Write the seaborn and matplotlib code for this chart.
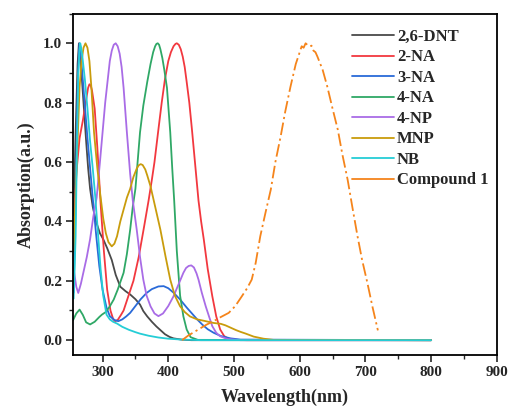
import numpy as np
import pandas as pd
import matplotlib
matplotlib.use("Agg")
import matplotlib.pyplot as plt
import seaborn as sns

# ---------------- data ----------------
dnt_wl = [256, 259, 262, 264, 267, 271, 275, 278, 281, 285, 290, 296, 301, 307, 314, 320, 327,
          335, 342, 350, 357, 362, 368, 375, 382, 388, 395, 402, 408, 420, 435, 460, 800]
dnt_y = [0.42, 0.70, 0.93, 1.00, 0.93, 0.80, 0.67, 0.58, 0.51, 0.45, 0.40, 0.36, 0.34, 0.31, 0.27,
         0.22, 0.18, 0.165, 0.154, 0.138, 0.12, 0.098, 0.08, 0.062, 0.046, 0.034, 0.02, 0.011,
         0.006, 0.002, 0.0, 0.0, 0.0]

na2_wl = [256, 260, 265, 270, 275, 278, 280, 282, 284, 288, 292, 297, 302, 307, 312, 316, 319,
          323, 328, 332, 338, 347, 355, 363, 370, 375, 379, 385, 390, 395, 400, 404, 408, 411,
          413, 416, 419, 422, 425, 428, 432, 436, 441, 446, 450, 454, 460, 467, 473, 479, 485,
          492, 500, 520, 800]
na2_y = [0.36, 0.56, 0.68, 0.74, 0.81, 0.85, 0.862, 0.858, 0.84, 0.78, 0.65, 0.46, 0.30, 0.17,
         0.10, 0.072, 0.064, 0.068, 0.085, 0.10, 0.14, 0.20, 0.28, 0.38, 0.47, 0.54, 0.60, 0.71,
         0.80, 0.88, 0.94, 0.97, 0.99, 0.998, 1.00, 0.995, 0.98, 0.955, 0.92, 0.87, 0.80, 0.71,
         0.59, 0.47, 0.40, 0.34, 0.24, 0.148, 0.08, 0.036, 0.014, 0.004, 0.001, 0.0, 0.0]

na3_wl = [256, 259, 262, 264, 265, 266, 268, 272, 277, 281, 285, 290, 295, 300, 306, 311, 318,
          324, 330, 336, 342, 350, 358, 367, 375, 385, 393, 400, 408, 418, 428, 436, 444, 452,
          460, 469, 480, 495, 510, 800]
na3_y = [0.16, 0.45, 0.85, 0.97, 1.00, 0.99, 0.93, 0.82, 0.68, 0.58, 0.48, 0.36, 0.25, 0.17,
         0.11, 0.081, 0.068, 0.064, 0.07, 0.08, 0.092, 0.115, 0.138, 0.159, 0.172, 0.181, 0.182,
         0.175, 0.16, 0.137, 0.11, 0.09, 0.07, 0.052, 0.037, 0.025, 0.014, 0.006, 0.002, 0.0]

na4_wl = [255, 260, 265, 270, 275, 281, 288, 295, 299, 305, 311, 317, 323, 332, 337, 342, 346,
          350, 357, 362, 368, 373, 377, 380, 382, 384, 386, 388, 391, 394, 398, 403, 406, 409,
          413, 418, 423, 428, 434, 445, 800]
na4_y = [0.067, 0.09, 0.103, 0.085, 0.06, 0.053, 0.062, 0.078, 0.086, 0.095, 0.114, 0.137, 0.17,
         0.227, 0.29, 0.372, 0.45, 0.51, 0.70, 0.79, 0.87, 0.93, 0.97, 0.99, 0.998, 1.00, 0.995,
         0.98, 0.95, 0.91, 0.85, 0.70, 0.58, 0.47, 0.30, 0.15, 0.08, 0.036, 0.01, 0.001, 0.0]

np4_wl = [256, 260, 263, 267, 272, 276, 281, 286, 291, 296, 300, 304, 308, 311, 314, 317, 320,
          323, 326, 329, 332, 337, 342, 346, 352, 357, 362, 367, 373, 379, 385, 392, 400, 408,
          416, 423, 427, 431, 435, 439, 443, 446, 451, 457, 462, 467, 473, 479, 490, 510, 800]
np4_y = [0.24, 0.18, 0.159, 0.19, 0.24, 0.28, 0.34, 0.417, 0.48, 0.60, 0.70, 0.80, 0.88, 0.94,
         0.975, 0.995, 1.00, 0.99, 0.965, 0.92, 0.85, 0.70, 0.56, 0.47, 0.372, 0.28, 0.204, 0.15,
         0.114, 0.09, 0.081, 0.09, 0.115, 0.148, 0.19, 0.227, 0.243, 0.25, 0.252, 0.245, 0.225,
         0.204, 0.16, 0.114, 0.08, 0.047, 0.025, 0.013, 0.004, 0.0, 0.0]

mnp_wl = [256, 260, 265, 268, 271, 274, 277, 280, 283, 287, 292, 296, 301, 305, 309, 314, 318,
          322, 327, 332, 337, 342, 347, 352, 355, 358, 361, 365, 368, 373, 380, 388, 396, 403,
          410, 418, 425, 433, 444, 455, 469, 480, 487, 495, 503, 510, 518, 530, 545, 560, 800]
mnp_y = [0.30, 0.55, 0.85, 0.94, 0.985, 1.00, 0.985, 0.94, 0.85, 0.70, 0.58, 0.50, 0.41, 0.36,
         0.33, 0.316, 0.325, 0.35, 0.40, 0.44, 0.48, 0.51, 0.55, 0.578, 0.589, 0.593, 0.59,
         0.575, 0.555, 0.518, 0.45, 0.372, 0.28, 0.204, 0.15, 0.114, 0.095, 0.08, 0.07, 0.065,
         0.058, 0.055, 0.05, 0.042, 0.034, 0.028, 0.022, 0.012, 0.005, 0.001, 0.0]

nb_wl = [256, 259, 261, 263, 265, 266, 267, 269, 273, 277, 281, 285, 289, 293, 297, 301, 306,
         311, 316, 322, 330, 340, 350, 357, 370, 385, 400, 420, 450, 800]
nb_y = [0.14, 0.35, 0.65, 0.90, 0.98, 1.00, 0.99, 0.96, 0.88, 0.78, 0.67, 0.58, 0.48, 0.36,
        0.24, 0.15, 0.086, 0.07, 0.062, 0.056, 0.045, 0.035, 0.027, 0.022, 0.015, 0.009, 0.005,
        0.002, 0.0, 0.0]

c1_wl = [421, 430, 445, 458, 469, 480, 492, 502, 512, 520, 527, 533, 540, 548, 556, 563, 571,
         578, 586, 594, 600, 603, 606, 609, 612, 615, 618, 621, 624, 627, 635, 642, 650, 658,
         665, 673, 680, 688, 695, 703, 711, 719]
c1_y = [0.0, 0.015, 0.035, 0.052, 0.064, 0.078, 0.092, 0.115, 0.148, 0.175, 0.204, 0.26, 0.35,
        0.43, 0.507, 0.60, 0.686, 0.77, 0.854, 0.93, 0.97, 0.99, 0.985, 1.0, 0.994, 0.99, 0.992,
        0.975, 0.97, 0.955, 0.91, 0.854, 0.78, 0.709, 0.625, 0.54, 0.45, 0.35, 0.27, 0.193,
        0.11, 0.033]

series = [
    ("2,6-DNT", dnt_wl, dnt_y, "#4a4a4a"),
    ("2-NA", na2_wl, na2_y, "#f2383f"),
    ("3-NA", na3_wl, na3_y, "#2a6ad8"),
    ("4-NA", na4_wl, na4_y, "#2fa866"),
    ("4-NP", np4_wl, np4_y, "#a96ce6"),
    ("MNP", mnp_wl, mnp_y, "#c99c0c"),
    ("NB", nb_wl, nb_y, "#25cdd6"),
    ("Compound 1", c1_wl, c1_y, "#f5841b"),
]

x_ticks = [300, 400, 500, 600, 700, 800, 900]
y_ticks = [0.0, 0.2, 0.4, 0.6, 0.8, 1.0]

# ---------------- plotting ----------------
sns.set_style("ticks")
plt.rcParams["font.family"] = ["Liberation Serif", "DejaVu Serif"]
plt.rcParams["font.weight"] = "bold"

fig = plt.figure(figsize=(5.08, 4.12), dpi=100)
ax = fig.add_axes([0.1437, 0.1383, 0.8343, 0.8287])

for name, wl, y, col in series:
    df = pd.DataFrame({"wl": wl, "abs": y})
    ls = (0, (7, 2, 1.2, 2)) if name == "Compound 1" else "-"
    sns.lineplot(data=df, x="wl", y="abs", ax=ax, color=col, label=name,
                 sort=False, estimator=None, linewidth=1.3, linestyle=ls)

ax.set_xlim(255, 900)
ax.set_ylim(-0.05, 1.1)
ax.set_xticks(x_ticks)
ax.set_yticks(y_ticks)
ax.set_xticklabels([str(v) for v in x_ticks], fontsize=11, fontweight="bold")
ax.set_yticklabels([f"{v:.1f}" for v in y_ticks], fontsize=11, fontweight="bold")
ax.xaxis.set_minor_locator(matplotlib.ticker.MultipleLocator(50))
ax.yaxis.set_minor_locator(matplotlib.ticker.MultipleLocator(0.1))
ax.tick_params(which="major", direction="out", length=5, width=1.2, pad=3)
ax.tick_params(which="minor", direction="out", length=3, width=1.0)
for s in ax.spines.values():
    s.set_visible(True)
    s.set_linewidth(1.3)
    s.set_color("black")

ax.set_xlabel("Wavelength(nm)", fontsize=13, fontweight="bold", labelpad=7)
ax.set_ylabel("Absorption(a.u.)", fontsize=13, fontweight="bold", labelpad=6)

leg = ax.legend(loc="upper left", bbox_to_anchor=(0.658, 0.955), frameon=False,
                prop={"family": "Liberation Serif", "weight": "bold", "size": 12},
                handlelength=2.5, handletextpad=0.2, labelspacing=0.27, borderpad=0,
                borderaxespad=0)
for h in leg.get_lines():
    h.set_linestyle("-")
    h.set_linewidth(1.3)

fig.savefig("out.png", dpi=100)
